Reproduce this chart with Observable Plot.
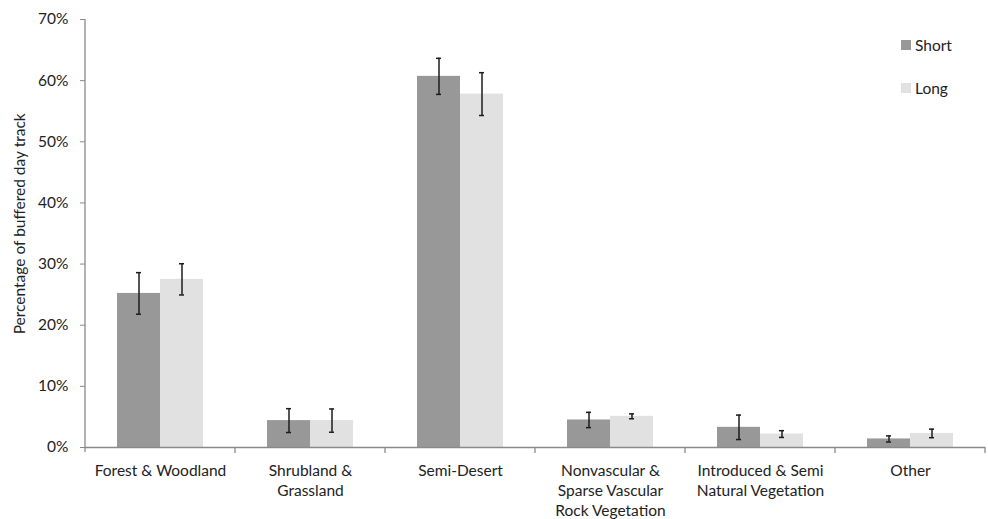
<!DOCTYPE html>
<html>
<head>
<meta charset="utf-8">
<script src="https://cdn.jsdelivr.net/npm/d3@7"></script>
<script src="https://cdn.jsdelivr.net/npm/@observablehq/plot@0.6"></script>
<style>
  html, body { margin: 0; padding: 0; background: #fff; }
  #chart svg { display: block; }
</style>
</head>
<body>
<div id="chart"></div>
<script>
// Land-cover classes along the x axis, with the wrapped labels shown under them
const categories = [
  "Forest & Woodland",
  "Shrubland & Grassland",
  "Semi-Desert",
  "Nonvascular & Sparse Vascular Rock Vegetation",
  "Introduced & Semi Natural Vegetation",
  "Other"
];
const categoryLabels = [
  "Forest & Woodland",
  "Shrubland &\nGrassland",
  "Semi-Desert",
  "Nonvascular &\nSparse Vascular\nRock Vegetation",
  "Introduced & Semi\nNatural Vegetation",
  "Other"
];
const series = ["Short", "Long"];

// Mean percentage of the buffered day track, and the error (±) for each class
const shortValues = [25.2, 4.4, 60.7, 4.5, 3.3, 1.4];
const shortErrors = [3.4, 1.95, 2.95, 1.25, 2.0, 0.5];
const longValues  = [27.5, 4.4, 57.8, 5.1, 2.2, 2.3];
const longErrors  = [2.55, 1.9, 3.5, 0.4, 0.55, 0.7];

const yTicks = [0, 10, 20, 30, 40, 50, 60, 70];
const colors = ["#989898", "#e1e1e1"];

const rows = [];
categories.forEach((c, i) => {
  rows.push({category: c, series: "Short", value: shortValues[i], err: shortErrors[i]});
  rows.push({category: c, series: "Long", value: longValues[i], err: longErrors[i]});
});
rows.forEach(d => { d.lo = d.value - d.err; d.hi = d.value + d.err; });

const labelOf = new Map(categories.map((c, i) => [c, categoryLabels[i]]));
const axisGrey = "#8a8a8a";
const font = "Lato, 'Open Sans', sans-serif";
const fontSize = 15.5;

const chart = Plot.plot({
  width: 988,
  height: 519,
  marginLeft: 85,
  marginRight: 3,
  marginTop: 19,
  marginBottom: 72,
  style: {fontFamily: font, fontSize: fontSize + "px", color: "#222", background: "#fff"},
  fx: {domain: categories, padding: 0, label: null, axis: null},
  x: {domain: series, paddingInner: 0, paddingOuter: 0.744, axis: null},
  y: {domain: [0, 70], axis: null},
  color: {domain: series, range: colors},
  marks: [
    Plot.axisY({
      ticks: yTicks,
      tickFormat: d => d + "%",
      tickSize: 5,
      tickPadding: 12,
      stroke: axisGrey,
      fill: "#222",
      fontSize: fontSize,
      label: null
    }),
    Plot.axisFx({
      anchor: "bottom",
      tickSize: 0,
      tickPadding: 14,
      tickFormat: c => labelOf.get(c),
      lineHeight: 1.3,
      fontSize: fontSize,
      fill: "#222",
      label: null
    }),
    Plot.barY(rows, {fx: "category", x: "series", y: "value", fill: "series"}),
    Plot.ruleY([0], {stroke: axisGrey, strokeWidth: 1.3}),
    Plot.ruleX(rows, {fx: "category", x: "series", y1: "lo", y2: "hi", stroke: "#1c1c1c", strokeWidth: 1.5}),
    Plot.tickY(rows, {fx: "category", x: "series", y: "lo", stroke: "#1c1c1c", strokeWidth: 1.5, insetLeft: 19, insetRight: 19}),
    Plot.tickY(rows, {fx: "category", x: "series", y: "hi", stroke: "#1c1c1c", strokeWidth: 1.5, insetLeft: 19, insetRight: 19})
  ]
});

document.getElementById("chart").appendChild(chart);

// Axis line, category boundary ticks, y-axis title and legend, placed with the chart's scales
const svg = d3.select(chart);
const fx = chart.scale("fx");
const y = chart.scale("y");
const y0 = y.apply(0), yTop = y.apply(70);
const left = fx.apply(categories[0]);
const step = fx.step;

const deco = svg.append("g").attr("stroke", axisGrey).attr("stroke-width", 1.3);
deco.append("line").attr("x1", left).attr("x2", left).attr("y1", yTop).attr("y2", y0 + 5);
categories.forEach(c => {
  const xr = fx.apply(c) + step;
  deco.append("line").attr("x1", xr).attr("x2", xr).attr("y1", y0).attr("y2", y0 + 6);
});

svg.append("text")
  .attr("transform", `translate(19,${y.apply(36.5)}) rotate(-90)`)
  .attr("text-anchor", "middle")
  .attr("dominant-baseline", "central")
  .attr("fill", "#222")
  .attr("font-size", fontSize)
  .attr("font-family", font)
  .text("Percentage of buffered day track");

const legend = svg.append("g")
  .attr("font-family", font)
  .attr("font-size", fontSize)
  .attr("text-anchor", "start");
series.forEach((s, i) => {
  const ly = 45 + i * 43;
  legend.append("rect").attr("x", 901).attr("y", ly - 5).attr("width", 10).attr("height", 10).attr("fill", colors[i]);
  legend.append("text").attr("x", 915).attr("y", ly).attr("fill", "#222").attr("dominant-baseline", "central").text(s);
});
</script>
</body>
</html>
